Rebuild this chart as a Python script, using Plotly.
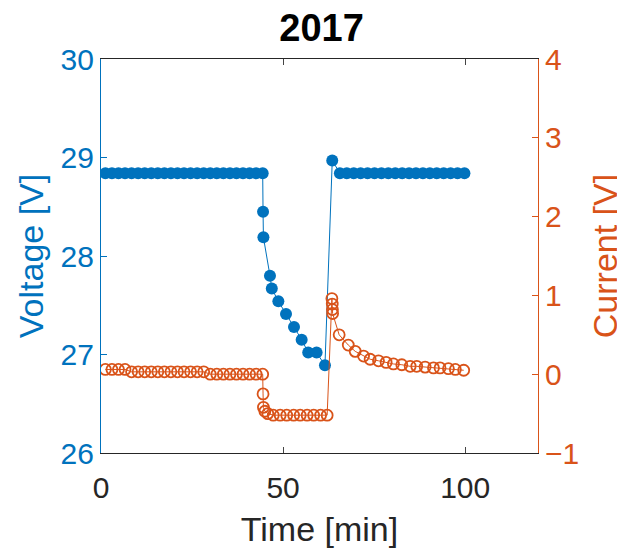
import plotly.graph_objects as go

BLUE = "#0072BD"
ORANGE = "#D95319"

t_volt = [1.2, 3.0, 4.8, 6.6, 8.4, 10.2, 12.0, 13.8, 15.6, 17.4, 19.2, 21.0, 22.8, 24.6,
          26.4, 28.2, 30.0, 31.8, 33.6, 35.4, 37.2, 39.0, 40.8, 42.6, 44.4,
          44.5, 44.6, 46.4, 46.9, 48.7, 50.8, 53.0, 55.1, 56.9, 59.2, 61.5, 63.5,
          65.6, 67.5, 69.4, 71.3, 73.2, 75.1, 77.0, 78.9, 80.8, 82.7, 84.6, 86.5,
          88.4, 90.3, 92.2, 94.1, 96.0, 97.9, 99.8]
voltage = [28.84] * 25 + [28.45, 28.19, 27.80, 27.67, 27.54, 27.41, 27.28, 27.15, 27.02,
                          27.02, 26.89, 28.97] + [28.84] * 19

t_curr = [1.2, 3.0, 4.8, 6.6, 8.4, 10.2, 12.0, 13.8, 15.6, 17.4, 19.2, 21.0, 22.8, 24.6,
          26.4, 28.2, 30.0, 31.8, 33.6, 35.4, 37.2, 39.0, 40.8, 42.6, 44.4,
          44.5, 44.6, 45.0, 45.8, 47.3, 49.2, 51.0, 52.9, 54.7, 56.6, 58.4, 60.3, 62.1,
          63.4, 63.5, 63.55, 63.6, 65.4, 67.9, 69.8, 72.1, 73.9, 76.2, 78.3, 80.3, 82.6,
          84.9, 86.7, 89.0, 91.3, 93.1, 95.4, 97.3, 99.6]
current = ([0.06] * 4 + [0.03] * 12 + [0.0] * 9 +
           [-0.25, -0.42, -0.47, -0.50] + [-0.52] * 9 +
           [0.96, 0.89, 0.82, 0.77, 0.50, 0.37, 0.29, 0.23, 0.19, 0.17, 0.15, 0.13, 0.12,
            0.10, 0.10, 0.09, 0.08, 0.08, 0.07, 0.06, 0.05])

x_ticks = [0, 50, 100]
v_ticks = [26, 27, 28, 29, 30]
c_ticks = [-1, 0, 1, 2, 3, 4]

fig = go.Figure()
fig.add_trace(go.Scatter(
    x=t_volt, y=voltage, mode="lines+markers", name="Voltage",
    line=dict(color=BLUE, width=1),
    marker=dict(symbol="circle", size=12, color=BLUE),
    yaxis="y"))
fig.add_trace(go.Scatter(
    x=t_curr, y=current, mode="lines+markers", name="Current",
    line=dict(color=ORANGE, width=1),
    marker=dict(symbol="circle-open", size=11, color=ORANGE, line=dict(width=1.8)),
    yaxis="y2"))

font = "Liberation Sans, Arial, sans-serif"
fig.update_layout(
    width=617, height=543,
    margin=dict(l=93, r=87, t=51, b=98, autoexpand=False),
    paper_bgcolor="white", plot_bgcolor="white",
    showlegend=False,
    font=dict(family=font, size=30, color="#262626"),
    title=dict(text="<b>2017</b>", x=(93 + 437 / 2) / 617, xanchor="center", xref="paper",
               y=0.963, yref="container", yanchor="middle",
               font=dict(size=38, color="black", family=font)),
    xaxis=dict(range=[0, 120], tickvals=x_ticks, ticks="inside", ticklen=6,
               showline=True, linecolor="#262626", linewidth=1, mirror="ticks",
               showgrid=False, zeroline=False, ticklabelstandoff=8, automargin=False,
               tickfont=dict(size=30, color="#262626"),
               title=dict(text="Time [min]", font=dict(size=34, color="#262626"), standoff=14)),
    yaxis=dict(range=[26, 30], tickvals=v_ticks, ticks="inside", ticklen=6,
               showline=True, linecolor=BLUE, linewidth=1.2, tickcolor=BLUE,
               showgrid=False, zeroline=False, automargin=False,
               tickfont=dict(size=30, color=BLUE),
               title=dict(text="Voltage [V]", font=dict(size=34, color=BLUE), standoff=6)),
    yaxis2=dict(range=[-1, 4], tickvals=c_ticks, ticks="inside", ticklen=6,
                overlaying="y", side="right",
                showline=True, linecolor=ORANGE, linewidth=1.2, tickcolor=ORANGE,
                showgrid=False, zeroline=False, automargin=False,
                tickfont=dict(size=30, color=ORANGE),
                title=dict(text="Current [V]", font=dict(size=34, color=ORANGE), standoff=14)),
)

fig.write_html("out.html")
